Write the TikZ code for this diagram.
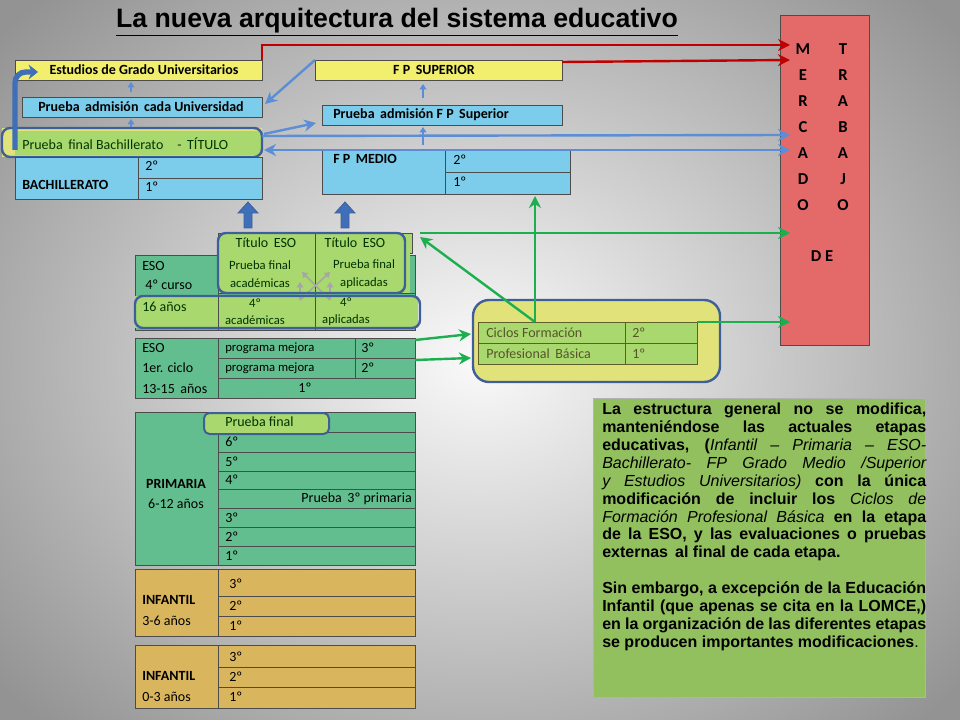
\documentclass[tikz,border=0pt]{standalone}
\usepackage{fontspec}
\setmainfont{Carlito}
\newfontfamily\arialf{Liberation Sans}
\usetikzlibrary{arrows.meta}
\definecolor{cyel}{HTML}{F2EE6E}
\definecolor{cblu}{HTML}{7CCDEB}
\definecolor{cgy}{HTML}{A9D86E}
\definecolor{cteal}{HTML}{62BE8F}
\definecolor{cinf}{HTML}{D9B55E}
\definecolor{cmer}{HTML}{E46A6A}
\definecolor{ctxt}{HTML}{92C05E}
\definecolor{ccic}{HTML}{E2E27A}
\definecolor{cout}{HTML}{3F5F9A}
\definecolor{carb}{HTML}{5B8ED6}
\definecolor{cred}{HTML}{C00000}
\definecolor{cgrn}{HTML}{1BAF4F}
\definecolor{cbig}{HTML}{3F6FB8}
\hyphenpenalty=10000 \exhyphenpenalty=10000
\tikzset{
 cell/.style={draw=black!70,line width=0.6pt},
 tx/.style={anchor=west,inner sep=0pt,font=\fontsize{10.5}{12}\selectfont},
 sm/.style={font=\fontsize{9.5}{13}\selectfont},
 bx/.style={inner sep=0pt,font=\bfseries\fontsize{10.5}{12}\selectfont},
 mx/.style={inner sep=0pt,font=\bfseries\fontsize{12.5}{14}\selectfont},
 outl/.style={draw=cout,line width=1.8pt,rounded corners=6pt},
 barr/.style={carb,line width=1.8pt,-{Stealth[length=9pt,width=9pt]}},
 rarr/.style={cred,line width=1.8pt,-{Stealth[length=9pt,width=9pt]}},
 garr/.style={cgrn,line width=1.8pt,-{Stealth[length=9pt,width=9pt]}},
 sarr/.style={carb,line width=1.4pt,-{Triangle[length=4pt,width=5pt]}},
 bigarr/.style={fill=cbig,draw=cout,line width=0.6pt},
}
\begin{document}
\begin{tikzpicture}[x=0.75pt,y=-0.75pt]
\useasboundingbox (0,0) rectangle (960,720);
\shade[inner color=white!96!gray,outer color=gray!85] (-150,-150) rectangle (1110,870);
% title
\node[font=\arialf\bfseries\fontsize{20}{24}\selectfont,inner sep=1pt] (title) at (397,22) {\underline{La nueva arquitectura del sistema educativo}};
% mercado
\node[draw=black!70,fill=cmer,minimum width=67pt,minimum height=247.5pt,inner sep=0pt,anchor=north west,line width=0.8pt] (merc) at (780,15) {};
\foreach \a/\b [count=\i] in {M/T,E/R,R/A,C/B,A/A,D/J,O/O}{
 \node[mx] (ml\i) at (803,{23+26*\i}) {\a};
 \node[mx] (mr\i) at (843,{23+26*\i}) {\b};}
\node[mx] (mde) at (822,256) {D E};
\coordinate (m45) at (790,45);\coordinate (m60) at (790,60);\coordinate (m135) at (790,135);
\coordinate (m150) at (790,150);\coordinate (m233) at (790,233);\coordinate (m322) at (790,322);
% left top
\draw[cell,fill=cyel] (15,60) rectangle (262,80);
\node[bx] (egu) at (144,70) {Estudios de Grado Universitarios};
\draw[cell,fill=cblu] (22,97) rectangle (262,117);
\node[bx] (pau) at (141,107) {Prueba\, admisión\, cada Universidad};
\draw[fill=ccic,draw=none] (2,128) rectangle (262,157);
\draw[fill=cgy,draw=none] (15,131) rectangle (262,155);
\draw[outl] (2,128) rectangle (262,157);
\node[tx,text=black!65!green!60!black] (pfb) at (22,144) {Prueba\, final Bachillerato\quad -\, TÍTULO};
\draw[cell,fill=cblu] (15,157) rectangle (262,199);
\draw[cell] (138,157) -- (138,199) (138,178) -- (262,178);
\node[bx,anchor=west] (bach) at (22,185) {BACHILLERATO};
\node[tx] at (145,166) {2º};\node[tx] at (145,187) {1º};
% FP
\draw[cell,fill=cyel] (315,60) rectangle (562,80);
\node[bx] (fps) at (434,70) {F P\, SUPERIOR};
\draw[cell,fill=cblu] (322,105) rectangle (562,125);
\node[bx,anchor=west] (pafp) at (333,115) {Prueba\, admisión F P\, Superior};
\draw[cell,fill=cblu] (322,150) rectangle (570,194);
\draw[cell] (445,150) -- (445,194) (445,172) -- (570,172);
\node[bx,anchor=west] (fpm) at (333,159) {F P\, MEDIO};
\node[tx] at (453,160) {2º};\node[tx] at (453,182) {1º};
% red and blue arrows
\draw[rarr] (262,60) -- (262,45) -- (m45);
\draw[rarr] (562,62) -- (m60);
\draw[barr] (262,136) -- (m135);
\draw[barr,{Stealth[length=9pt,width=9pt]}-{Stealth[length=9pt,width=9pt]}] (264,150) -- (m150);
\draw[barr] (315,60) -- (265,104);
\draw[barr] (264,134) -- (316,123);
\draw[sarr] (131,92) -- (131,82);
\draw[sarr] (131,127) -- (131,119);
\draw[sarr] (423,98) -- (423,84);
\draw[sarr] (423,145) -- (423,127);
\draw[cbig,line width=4pt,rounded corners=8pt,-{Stealth[length=7pt,width=11pt]}] (15,150) -- (15,72) -- (38,72);
% big up arrows
\foreach \cx in {248,345}{\draw[bigarr] (\cx-4,228) -- (\cx-4,213) -- (\cx-10,213) -- (\cx,202) -- (\cx+10,213) -- (\cx+4,213) -- (\cx+4,228) -- cycle;}
% ESO 4
\draw[cell,fill=cteal] (135,255) rectangle (415,330);
\draw[cell,fill=cgy] (218,233) rectangle (412,253);
\fill[cgy] (218,253) rectangle (410,293);
\fill[cgy] (135,296) rectangle (418,328);
\draw[cell] (218,233) -- (218,330) (315,233) -- (315,330) (218,293) -- (415,293);
\node[tx,anchor=center,text=black!60!green!50!black] at (266,243) {Título\, ESO};
\node[tx,anchor=center,text=black!60!green!50!black] at (355,243) {Título\, ESO};
\node[tx,sm,anchor=center,align=center,text=black!60!green!50!black] at (260,274) {Prueba final\\académicas};
\node[tx,sm,anchor=center,align=center,text=black!60!green!50!black] at (364,274) {Prueba final\\aplicadas};
\node[tx,sm,anchor=center,align=center,text=black!60!green!50!black] at (255,312) {4º\\académicas};
\node[tx,sm,anchor=center,align=center,text=black!60!green!50!black] at (346,312) {4º\\aplicadas};
\node[tx] (eso4) at (142,266) {ESO};
\node[tx] at (145,285) {4º curso};
\node[tx,text=black!60!green!50!black] at (142,307) {16 años};
\draw[gray!70,line width=1.2pt,-{Triangle[length=4pt,width=5pt]}] (300,300) -- (330,272);
\draw[gray!70,line width=1.2pt,-{Triangle[length=4pt,width=5pt]}] (330,300) -- (302,272);
\draw[gray!70,line width=1.2pt,-{Triangle[length=4pt,width=5pt]}] (300,300) -- (300,282);
\draw[gray!70,line width=1.2pt,-{Triangle[length=4pt,width=5pt]}] (330,300) -- (330,282);
\draw[outl] (218,233) rectangle (405,293);
\draw[outl] (135,296) rectangle (420,328);
% ESO 1
\draw[cell,fill=cteal] (135,338) rectangle (415,398);
\draw[cell] (218,338) -- (218,398) (218,358) -- (415,358) (218,378) -- (415,378) (355,338) -- (355,378);
\node[tx] (eso1) at (142,348) {ESO};\node[tx] at (142,368) {1er. ciclo};\node[tx] at (142,389) {13-15\, años};
\node[tx,font=\fontsize{9.5}{10}\selectfont] at (225,348) {programa mejora};
\node[tx,font=\fontsize{9.5}{10}\selectfont] at (225,368) {programa mejora};
\node[tx] at (361,348) {3º};\node[tx] at (361,368) {2º};
\node[tx,anchor=center] at (305,388) {1º};
% primaria
\draw[cell,fill=cteal] (135,412) rectangle (415,565);
\draw[cell] (218,412) -- (218,565);
\foreach \yy in {432,452,471,489,508,527,546}{\draw[cell] (218,\yy) -- (415,\yy);}
\fill[cgy] (205,414) rectangle (328,433);
\draw[outl,line width=1.5pt,rounded corners=4pt] (204,413) rectangle (329,434);
\node[tx,text=black!60!green!50!black] at (225,422) {Prueba final};
\foreach \t/\yy in {6º/442,5º/462,4º/480,3º/518,2º/537,1º/556}{\node[tx] at (225,\yy) {\t};}
\node[tx,anchor=east] at (412,499) {Prueba\, 3º primaria};
\node[bx] (prim) at (176,484) {PRIMARIA};
\node[tx,anchor=center] at (176,504) {6-12 años};
% infantil
\draw[cell,fill=cinf] (135,569) rectangle (415,636);
\draw[cell] (218,569) -- (218,636) (218,596) -- (415,596) (218,616) -- (415,616);
\node[tx] at (229,584) {3º};\node[tx] at (229,606) {2º};\node[tx] at (229,626) {1º};
\node[bx,anchor=west] (inf1) at (142,600) {INFANTIL};\node[tx] at (142,621) {3-6 años};
\draw[cell,fill=cinf] (135,645) rectangle (415,708);
\draw[cell] (218,645) -- (218,708) (218,667) -- (415,667) (218,687) -- (415,687);
\node[tx] at (229,657) {3º};\node[tx] at (229,677) {2º};\node[tx] at (229,697) {1º};
\node[bx,anchor=west] (inf2) at (142,676) {INFANTIL};\node[tx] at (142,697) {0-3 años};
% ciclos
\draw[outl,fill=ccic,rounded corners=12pt] (473,300) rectangle (720,382);
\draw[cell,fill=cgy,draw=olive!60!black] (478,322) rectangle (697,364);
\draw[cell,draw=olive!60!black] (625,322) -- (625,364) (478,343) -- (697,343);
\node[tx,text=olive!50!black] (cfpb) at (486,333) {Ciclos Formación};
\node[tx,text=olive!50!black] at (486,354) {Profesional\, Básica};
\node[tx,text=olive!50!black] at (632,333) {2º};\node[tx,text=olive!50!black] at (632,354) {1º};
% green arrows
\draw[garr] (535,322) -- (535,196);
\draw[garr] (535,322) -- (420,237);
\draw[garr] (420,233) -- (m233);
\draw[garr] (697,322) -- (m322);
\draw[garr] (415,340) -- (471,334);
\draw[garr] (415,360) -- (471,358);
% text box
\node[fill=ctxt,draw=gray!60,anchor=north west,minimum width=249pt,minimum height=224pt,inner sep=0pt] (tb) at (593,398) {};
\node[anchor=north west,text width=243pt,align=justify,inner sep=0pt,font=\arialf\bfseries\fontsize{12}{13.4}\selectfont] (tbt) at (602,403) {La estructura general no se modifica, manteniéndose las actuales etapas educativas, (\textit{\mdseries Infantil – Primaria – ESO- Bachillerato- FP Grado Medio /Superior y Estudios Universitarios)} con la única modificación de incluir los \textit{\mdseries Ciclos de Formación Profesional Básica} en la etapa de la ESO, y las evaluaciones o pruebas externas\, al final de cada etapa.\par\vspace{13.4pt}
Sin embargo, a excepción de la Educación Infantil (que apenas se cita en la LOMCE,) en la organización de las diferentes etapas se producen importantes modificaciones\textmd{.}};
\end{tikzpicture}
\end{document}
